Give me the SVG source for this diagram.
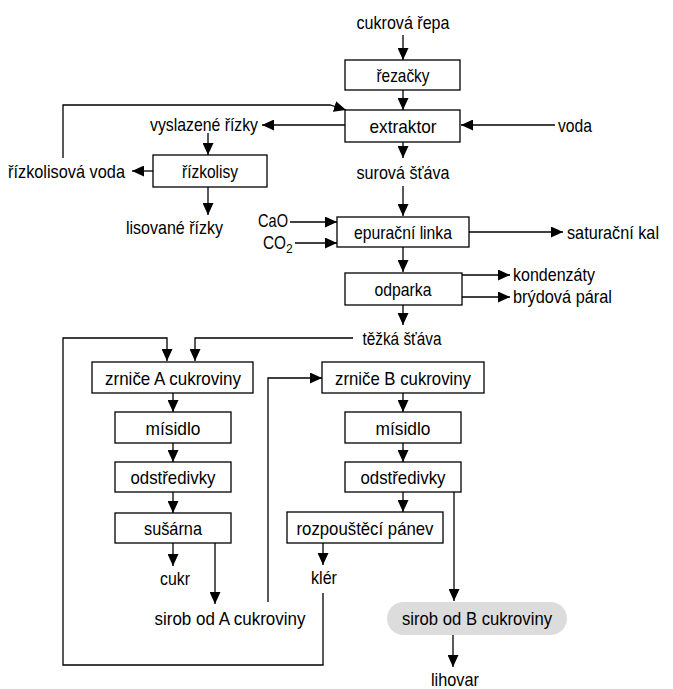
<svg xmlns="http://www.w3.org/2000/svg" width="673" height="689" viewBox="0 0 673 689">
<defs>
<marker id="ah" markerWidth="12" markerHeight="11" refX="12" refY="5.5" orient="auto" markerUnits="userSpaceOnUse">
<path d="M0,0 L12,5.5 L0,11 z" fill="#000"/>
</marker>
<style>
text{font-family:"Liberation Sans",Arial,sans-serif;font-size:19px;fill:#000}
.sub{font-size:12px}
.c{text-anchor:middle}
.box{fill:#fff;stroke:#000;stroke-width:1.3}
.pill{fill:#dcdcdc;stroke:none}
.ar{fill:none;stroke:#000;stroke-width:1.3;marker-end:url(#ah)}
</style>
</defs>
<rect width="673" height="689" fill="#fff"/>
<g id="connectors">
<path class="ar" d="M403,35 V60"/>
<path class="ar" d="M403,90 V110"/>
<path class="ar" d="M345,125 H262"/>
<path class="ar" d="M555,125 H461"/>
<path class="ar" d="M63,158 V105 H330 L346,110"/>
<path class="ar" d="M208,133 V155"/>
<path class="ar" d="M153,171 H132"/>
<path class="ar" d="M208,187 V215"/>
<path class="ar" d="M403,142 V158"/>
<path class="ar" d="M403,186 V216"/>
<path class="ar" d="M290,222 H337"/>
<path class="ar" d="M295,243 H337"/>
<path class="ar" d="M469,232 H563"/>
<path class="ar" d="M403,247 V272"/>
<path class="ar" d="M462,275 H510"/>
<path class="ar" d="M462,297 H510"/>
<path class="ar" d="M403,305 V325"/>
<path class="ar" d="M353,338 H195 V361"/>
<path class="ar" d="M323,593 V665 H63 V338 H167 V361"/>
<path class="ar" d="M173,393 V412"/>
<path class="ar" d="M173,443 V462"/>
<path class="ar" d="M173,492 V513"/>
<path class="ar" d="M173,543 V566"/>
<path class="ar" d="M215,543 V604"/>
<path class="ar" d="M268,602 V378 H322"/>
<path class="ar" d="M403,393 V412"/>
<path class="ar" d="M403,443 V462"/>
<path class="ar" d="M403,492 V512"/>
<path class="ar" d="M323,543 V565"/>
<path class="ar" d="M454,492 V601"/>
<path class="ar" d="M453,635 V667"/>
</g>
<g id="cukrova-repa"><text class="c" x="403" y="29" textLength="93" lengthAdjust="spacingAndGlyphs">cukrová řepa</text></g>
<g id="rezacky"><rect class="box" x="345" y="60" width="115" height="30"/><text class="c" x="403" y="82" textLength="53" lengthAdjust="spacingAndGlyphs">řezačky</text></g>
<g id="extraktor"><rect class="box" x="345" y="110" width="115" height="32"/><text class="c" x="403" y="133" textLength="67" lengthAdjust="spacingAndGlyphs">extraktor</text></g>
<g id="voda"><text x="558" y="132" textLength="34" lengthAdjust="spacingAndGlyphs">voda</text></g>
<g id="vyslazene-rizky"><text x="150" y="131" textLength="108" lengthAdjust="spacingAndGlyphs">vyslazené řízky</text></g>
<g id="rizkolisy"><rect class="box" x="153" y="155" width="114" height="32"/><text class="c" x="210" y="178" textLength="56" lengthAdjust="spacingAndGlyphs">řízkolisy</text></g>
<g id="rizkolisova-voda"><text x="8" y="178" textLength="117" lengthAdjust="spacingAndGlyphs">řízkolisová voda</text></g>
<g id="lisovane-rizky"><text x="126" y="234" textLength="97" lengthAdjust="spacingAndGlyphs">lisované řízky</text></g>
<g id="surova-stava"><text class="c" x="403" y="179" textLength="93" lengthAdjust="spacingAndGlyphs">surová šťáva</text></g>
<g id="cao"><text x="258" y="227" textLength="30" lengthAdjust="spacingAndGlyphs">CaO</text></g>
<g id="co2"><text x="263" y="249"><tspan textLength="23" lengthAdjust="spacingAndGlyphs">CO</tspan><tspan class="sub" dy="4">2</tspan></text></g>
<g id="epuracni-linka"><rect class="box" x="337" y="217" width="132" height="30"/><text class="c" x="403" y="239" textLength="98" lengthAdjust="spacingAndGlyphs">epurační linka</text></g>
<g id="saturacni-kal"><text x="567" y="239" textLength="92" lengthAdjust="spacingAndGlyphs">saturační kal</text></g>
<g id="odparka"><rect class="box" x="345" y="273" width="117" height="32"/><text class="c" x="403" y="296" textLength="57" lengthAdjust="spacingAndGlyphs">odparka</text></g>
<g id="kondenzaty"><text x="513" y="281" textLength="82" lengthAdjust="spacingAndGlyphs">kondenzáty</text></g>
<g id="brydova-para"><text x="513" y="303" textLength="99" lengthAdjust="spacingAndGlyphs">brýdová páral</text></g>
<g id="tezka-stava"><text class="c" x="402" y="345" textLength="79" lengthAdjust="spacingAndGlyphs">těžká šťáva</text></g>
<g id="zrnice-a"><rect class="box" x="92" y="362" width="161" height="31"/><text class="c" x="173" y="385" textLength="136" lengthAdjust="spacingAndGlyphs">zrniče A cukroviny</text></g>
<g id="misidlo-a"><rect class="box" x="115" y="412" width="116" height="31"/><text class="c" x="173" y="435" textLength="55" lengthAdjust="spacingAndGlyphs">mísidlo</text></g>
<g id="odstredivky-a"><rect class="box" x="115" y="462" width="116" height="30"/><text class="c" x="173" y="484" textLength="85" lengthAdjust="spacingAndGlyphs">odstředivky</text></g>
<g id="susarna"><rect class="box" x="115" y="513" width="116" height="30"/><text class="c" x="173" y="535" textLength="58" lengthAdjust="spacingAndGlyphs">sušárna</text></g>
<g id="cukr"><text class="c" x="175" y="585" textLength="30" lengthAdjust="spacingAndGlyphs">cukr</text></g>
<g id="sirob-a"><text class="c" x="230" y="625" textLength="151" lengthAdjust="spacingAndGlyphs">sirob od A cukroviny</text></g>
<g id="zrnice-b"><rect class="box" x="322" y="362" width="162" height="31"/><text class="c" x="403" y="385" textLength="136" lengthAdjust="spacingAndGlyphs">zrniče B cukroviny</text></g>
<g id="misidlo-b"><rect class="box" x="345" y="412" width="116" height="31"/><text class="c" x="403" y="435" textLength="55" lengthAdjust="spacingAndGlyphs">mísidlo</text></g>
<g id="odstredivky-b"><rect class="box" x="345" y="462" width="116" height="30"/><text class="c" x="403" y="484" textLength="85" lengthAdjust="spacingAndGlyphs">odstředivky</text></g>
<g id="rozpousteci-panev"><rect class="box" x="287" y="512" width="156" height="31"/><text class="c" x="365" y="535" textLength="137" lengthAdjust="spacingAndGlyphs">rozpouštěcí pánev</text></g>
<g id="kler"><text class="c" x="324" y="584" textLength="26" lengthAdjust="spacingAndGlyphs">klér</text></g>
<g id="sirob-b"><rect class="pill" x="387" y="602" width="180" height="33" rx="16.5"/><text class="c" x="477" y="625" textLength="150" lengthAdjust="spacingAndGlyphs">sirob od B cukroviny</text></g>
<g id="lihovar"><text class="c" x="455" y="686" textLength="48" lengthAdjust="spacingAndGlyphs">lihovar</text></g>
</svg>
